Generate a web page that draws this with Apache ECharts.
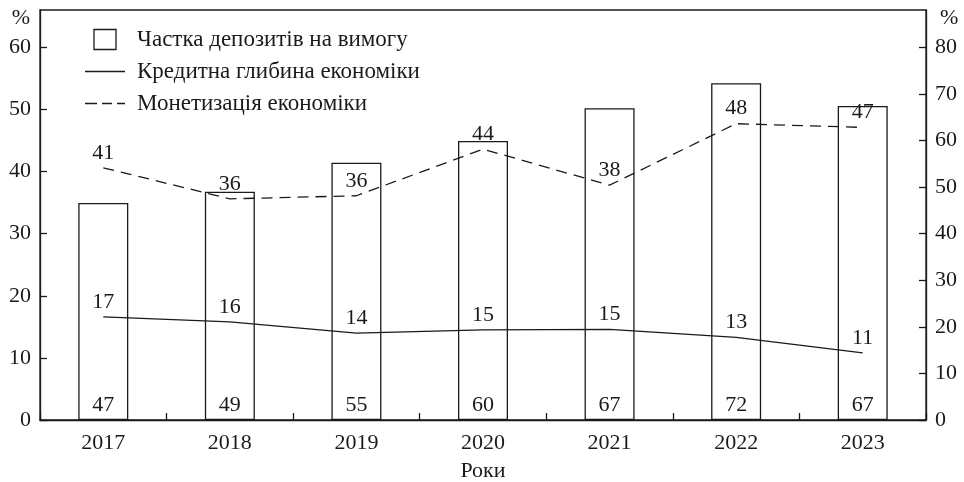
<!DOCTYPE html>
<html>
<head>
<meta charset="utf-8">
<script src="https://cdn.jsdelivr.net/npm/echarts@6/dist/echarts.min.js"></script>
<style>html,body{margin:0;padding:0;background:#fff}#c{width:964px;height:482px}</style>
</head>
<body>
<div id="c"></div>
<script>
const years = ['2017', '2018', '2019', '2020', '2021', '2022', '2023'];
const demandDepositShare = [46.6, 49.0, 55.2, 59.9, 66.9, 72.3, 67.4];
const creditDepth = [16.6, 15.8, 14.0, 14.5, 14.6, 13.3, 10.8];
const monetization = [40.6, 35.6, 36.1, 43.6, 37.8, 47.7, 47.1];
const leftTicks = [0, 10, 20, 30, 40, 50, 60];
const rightTicks = [0, 10, 20, 30, 40, 50, 60, 70, 80];
const seriesNames = ['Частка депозитів на вимогу', 'Кредитна глибина економіки', 'Монетизація економіки'];

const FONT = 'Liberation Serif';
const FS = 22;
const INK = '#1a1a1a';

const chart = echarts.init(document.getElementById('c'), null, {renderer: 'canvas'});
const yAxisCommon = {
  type: 'value',
  min: 0,
  interval: 10,
  splitLine: {show: false},
  axisLine: {show: true, lineStyle: {color: INK, width: 1.3}},
  axisTick: {show: true, inside: true, length: 7, lineStyle: {color: INK, width: 1.3}},
  axisLabel: {color: INK, fontFamily: FONT, fontSize: FS},
  nameLocation: 'end',
  nameGap: -8
};
const lineLabel = {show: true, position: 'top', distance: 3, color: INK, fontFamily: FONT, fontSize: FS,
  formatter: p => Math.round(p.value)};
chart.setOption({
  animation: false,
  textStyle: {fontFamily: FONT, color: INK},
  grid: {left: 40, right: 38, top: 10, bottom: 62, outerBoundsMode: 'none', containLabel: false,
    show: true, borderColor: INK, borderWidth: 1.3, backgroundColor: 'transparent'},
  legend: {
    orient: 'vertical',
    left: 85,
    top: 28,
    padding: 0,
    itemWidth: 40,
    itemHeight: 20,
    itemGap: 9,
    align: 'left',
    textStyle: {fontFamily: FONT, fontSize: 23, color: INK, padding: [0, 0, 0, 7]},
    data: [
      {name: seriesNames[0], icon: 'path://M0,0 L22,0 L22,20 L0,20 Z', itemStyle: {color: '#fff', borderColor: INK, borderWidth: 1.3}},
      {name: seriesNames[1], icon: 'path://M0,0 H40 V1.4 H0 Z', itemStyle: {color: INK, borderWidth: 0}},
      {name: seriesNames[2], icon: 'path://M0,0 H12 V1.4 H0 Z M17,0 H27 V1.4 H17 Z M32,0 H40 V1.4 H32 Z', itemStyle: {color: INK, borderWidth: 0}}
    ]
  },
  xAxis: {
    type: 'category',
    data: years,
    boundaryGap: true,
    name: 'Роки',
    nameLocation: 'middle',
    nameGap: 40,
    nameTextStyle: {fontFamily: FONT, fontSize: FS, color: INK},
    axisLine: {lineStyle: {color: INK, width: 1.3}},
    axisTick: {show: true, inside: true, length: 7, lineStyle: {color: INK, width: 1.3}},
    axisLabel: {color: INK, fontFamily: FONT, fontSize: FS, margin: 12}
  },
  yAxis: [
    Object.assign({}, yAxisCommon, {
      max: 66,
      position: 'left',
      name: '%',
      nameTextStyle: {fontFamily: FONT, fontSize: FS, color: INK, align: 'right', verticalAlign: 'middle', padding: [0, 10, 0, 0]},
      axisTick: Object.assign({}, yAxisCommon.axisTick, {customValues: leftTicks}),
      axisLabel: Object.assign({}, yAxisCommon.axisLabel, {customValues: leftTicks, margin: 9})
    }),
    Object.assign({}, yAxisCommon, {
      max: 88,
      position: 'right',
      name: '%',
      nameTextStyle: {fontFamily: FONT, fontSize: FS, color: INK, align: 'left', verticalAlign: 'middle', padding: [0, 0, 0, 14]},
      axisTick: Object.assign({}, yAxisCommon.axisTick, {customValues: rightTicks}),
      axisLabel: Object.assign({}, yAxisCommon.axisLabel, {customValues: rightTicks, margin: 9})
    })
  ],
  series: [
    {
      name: seriesNames[0],
      type: 'bar',
      yAxisIndex: 1,
      data: demandDepositShare,
      barWidth: 50,
      z: 1,
      itemStyle: {color: '#fff', borderColor: INK, borderWidth: 1.3},
      label: {show: true, position: 'insideBottom', distance: 4, color: INK, fontFamily: FONT, fontSize: FS,
        formatter: p => Math.round(p.value)}
    },
    {
      name: seriesNames[1],
      type: 'line',
      yAxisIndex: 0,
      data: creditDepth,
      symbol: 'circle',
      symbolSize: 2,
      showSymbol: true,
      z: 3,
      lineStyle: {color: INK, width: 1.3},
      itemStyle: {color: 'rgba(0,0,0,0)'},
      label: lineLabel
    },
    {
      name: seriesNames[2],
      type: 'line',
      yAxisIndex: 0,
      data: monetization,
      symbol: 'circle',
      symbolSize: 2,
      showSymbol: true,
      z: 3,
      lineStyle: {color: INK, width: 1.3, type: [11, 7]},
      itemStyle: {color: 'rgba(0,0,0,0)'},
      label: lineLabel
    }
  ]
});
</script>
</body>
</html>
